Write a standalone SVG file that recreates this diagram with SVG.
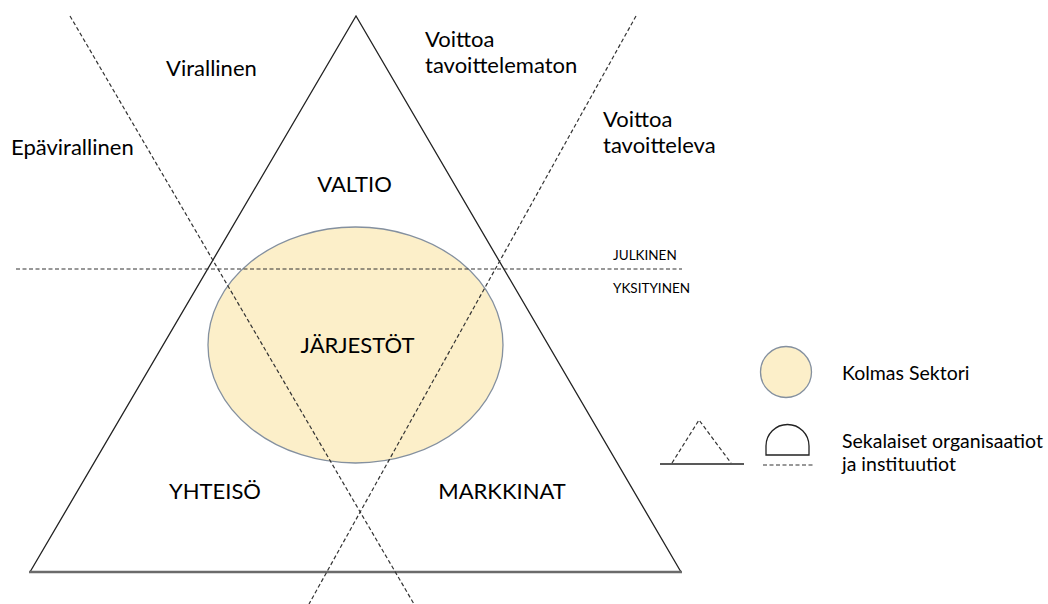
<svg xmlns="http://www.w3.org/2000/svg" width="1048" height="604" viewBox="0 0 1048 604">
  <style>
    .lbl { font-family: Lato, "Liberation Sans", sans-serif; font-size: 22px; fill: #000; }
    .sm { font-family: Lato, "Liberation Sans", sans-serif; font-size: 13.5px; fill: #000; }
    .leg { font-family: Lato, "Liberation Sans", sans-serif; font-size: 19.5px; fill: #000; }
    .dash { fill: none; stroke: #333; stroke-width: 1.2; stroke-dasharray: 4 2.5; }
    .side { fill: none; stroke: #222; stroke-width: 1.3; }
    .sector { fill: #fcefc9; stroke: #84909f; stroke-width: 1.3; }
  </style>

  <rect width="1048" height="604" fill="#fff"/>

  <!-- third sector ellipse -->
  <g id="jarjestot-area">
    <ellipse class="sector" cx="355.5" cy="345" rx="147.5" ry="118"/>
  </g>

  <!-- triangle: two dark sides and a grey base -->
  <g id="triangle">
    <polyline class="side" points="30,572 356,16 681,572"/>
    <line x1="29" y1="572" x2="682" y2="572" stroke="#6b6b6b" stroke-width="2.4"/>
  </g>

  <!-- dividing dashed lines -->
  <g id="connectors">
    <line class="dash" x1="16" y1="269" x2="682" y2="269"/>
    <line class="dash" x1="70" y1="16" x2="414" y2="604"/>
    <line class="dash" x1="636" y1="16" x2="309" y2="604"/>
  </g>

  <g id="valtio"><text class="lbl" x="354.5" y="192" text-anchor="middle">VALTIO</text></g>
  <g id="jarjestot"><text class="lbl" x="357.5" y="353" text-anchor="middle">JÄRJESTÖT</text></g>
  <g id="yhteiso"><text class="lbl" x="215" y="499" text-anchor="middle">YHTEISÖ</text></g>
  <g id="markkinat"><text class="lbl" x="502" y="499" text-anchor="middle">MARKKINAT</text></g>

  <g id="virallinen"><text class="lbl" x="166" y="76">Virallinen</text></g>
  <g id="epavirallinen"><text class="lbl" x="11" y="155">Epävirallinen</text></g>
  <g id="voittoa-tavoittelematon">
    <text class="lbl" x="425" y="47">Voittoa</text>
    <text class="lbl" x="425" y="73">tavoittelematon</text>
  </g>
  <g id="voittoa-tavoitteleva">
    <text class="lbl" x="603" y="127">Voittoa</text>
    <text class="lbl" x="603" y="153">tavoitteleva</text>
  </g>
  <g id="julkinen"><text class="sm" x="613" y="260">JULKINEN</text></g>
  <g id="yksityinen"><text class="sm" x="613" y="293">YKSITYINEN</text></g>

  <!-- legend -->
  <g id="legend-sector">
    <circle class="sector" cx="786" cy="372" r="25.5"/>
    <text class="leg" x="842" y="380">Kolmas Sektori</text>
  </g>
  <g id="legend-mixed">
    <polyline class="dash" points="672,463 699,420 731,463"/>
    <line x1="660" y1="464" x2="744" y2="464" stroke="#222" stroke-width="1.3"/>
    <path d="M766,455 L766,446 A21.5,21.5 0 0 1 809,446 L809,455 Z" fill="#fff" stroke="#222" stroke-width="1.3"/>
    <line class="dash" x1="763" y1="465" x2="813" y2="465"/>
    <text class="leg" x="842" y="448">Sekalaiset organisaatiot</text>
    <text class="leg" x="842" y="471">ja instituutiot</text>
  </g>
</svg>
